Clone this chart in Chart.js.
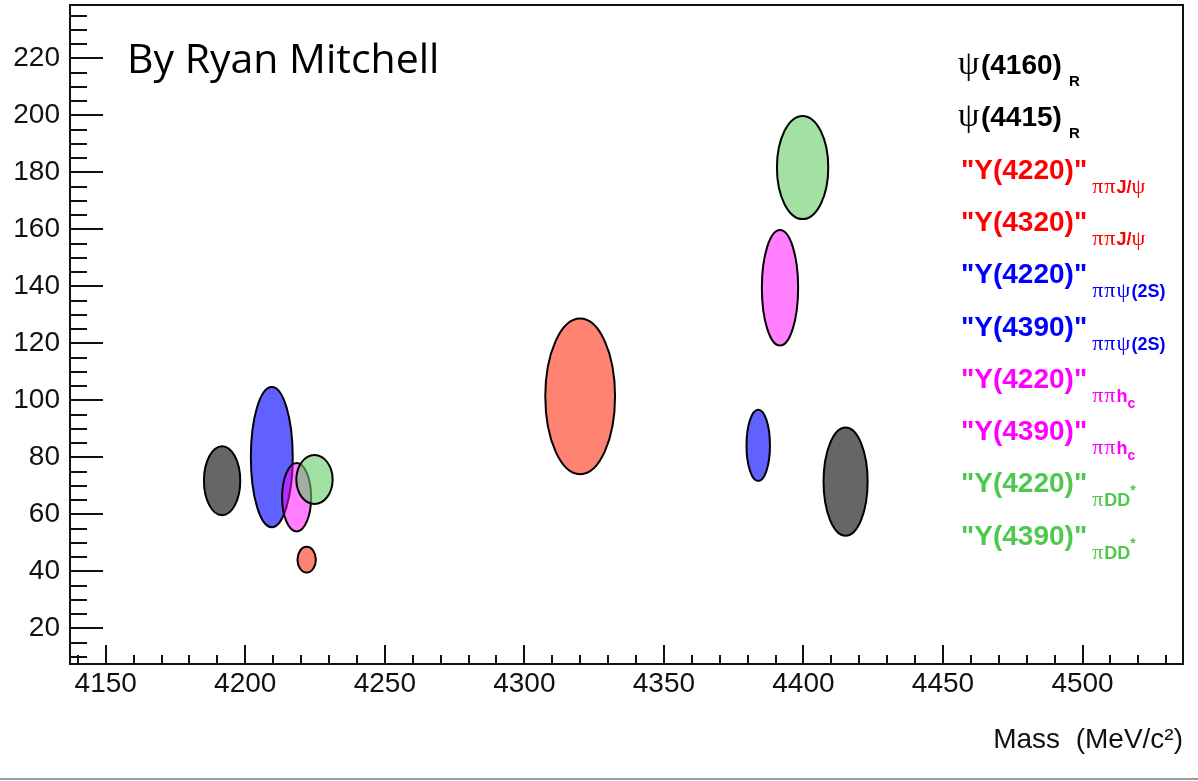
<!DOCTYPE html>
<html>
<head>
<meta charset="utf-8">
<script src="https://cdn.jsdelivr.net/npm/chart.js@4.4.0/dist/chart.umd.min.js"></script>
<style>
  html, body { margin: 0; padding: 0; background: #fff; }
  #wrap { position: relative; width: 1198px; height: 781px; overflow: hidden; }
  #c { display: block; width: 1198px; height: 781px; }
  #rule { position: absolute; left: 0; top: 778px; width: 1198px; height: 2px; background: #9c9c9c; }
</style>
</head>
<body>
<div id="wrap">
  <canvas id="c" width="1198" height="781"></canvas>
  <div id="rule"></div>
</div>
<script>
// Resonance parameters: mass and width (MeV) with their uncertainties
const resonances = ['ψ(4160)', 'ψ(4415)', '"Y(4220)"', '"Y(4320)"', '"Y(4220)"', '"Y(4390)"', '"Y(4220)"', '"Y(4390)"', '"Y(4220)"', '"Y(4390)"'];
const channels   = ['R', 'R', 'ππJ/ψ', 'ππJ/ψ', 'ππψ(2S)', 'ππψ(2S)', 'ππh_c', 'ππh_c', 'πDD^*', 'πDD^*'];
const mass       = [4191.7, 4415.1, 4222.0, 4320.0, 4209.5, 4383.8, 4218.4, 4391.6, 4224.8, 4399.7];
const massErr    = [6.5, 7.9, 3.3, 12.5, 7.5, 4.2, 5.2, 6.5, 6.5, 9.2];
const width      = [71.8, 71.5, 44.1, 101.4, 80.1, 84.2, 66.0, 139.5, 72.2, 181.7];
const widthErr   = [12.1, 19.0, 4.5, 27.3, 24.6, 12.5, 12.0, 20.3, 8.6, 18.1];

// Axis tick labels
const xTickLabels = [4150, 4200, 4250, 4300, 4350, 4400, 4450, 4500];
const yTickLabels = [20, 40, 60, 80, 100, 120, 140, 160, 180, 200, 220];

// Colours: text colour per channel and translucent ellipse fill
const textColors = ['#000000', '#000000', '#ff0000', '#ff0000', '#0000ff', '#0000ff', '#ff00ff', '#ff00ff', '#4fc84f', '#4fc84f'];
const fillColors = ['rgba(0,0,0,0.6)', 'rgba(0,0,0,0.6)', 'rgba(255,30,0,0.55)', 'rgba(255,30,0,0.55)',
                    'rgba(0,0,255,0.62)', 'rgba(0,0,255,0.62)', 'rgba(255,0,255,0.5)', 'rgba(255,0,255,0.5)',
                    'rgba(102,204,102,0.6)', 'rgba(102,204,102,0.6)'];

const X_MIN = 4137.2, X_MAX = 4536;
const Y_MIN = 7.5, Y_MAX = 238.7;

const SANS = '"Liberation Sans", Arial, Helvetica, sans-serif';
const SERIF = '"Liberation Serif", "Times New Roman", serif';

// Ellipses: centre (mass, width), semi-axes from the uncertainties, mapped through the scales
const ellipsePlugin = {
  id: 'errorEllipses',
  afterDatasetsDraw(chart) {
    const { ctx, scales: { x, y }, chartArea } = chart;
    ctx.save();
    ctx.beginPath();
    ctx.rect(chartArea.left, chartArea.top, chartArea.right - chartArea.left, chartArea.bottom - chartArea.top);
    ctx.clip();
    chart.data.datasets.forEach((ds) => {
      const p = ds.data[0];
      const cx = x.getPixelForValue(p.x);
      const cy = y.getPixelForValue(p.y);
      const rx = Math.abs(x.getPixelForValue(p.x + ds.massErr) - cx);
      const ry = Math.abs(y.getPixelForValue(p.y + ds.widthErr) - cy);
      ctx.beginPath();
      ctx.ellipse(cx, cy, rx, ry, 0, 0, Math.PI * 2);
      ctx.fillStyle = ds.backgroundColor;
      ctx.fill();
      ctx.lineWidth = 2;
      ctx.strokeStyle = '#000';
      ctx.stroke();
    });
    ctx.restore();
  }
};

// Frame with inward major/minor ticks
const framePlugin = {
  id: 'frameTicks',
  afterDraw(chart) {
    const { ctx, chartArea: a, scales: { x, y } } = chart;
    ctx.save();
    ctx.strokeStyle = '#111';
    ctx.lineWidth = 2;
    ctx.beginPath();
    // x ticks: major every 50, minor every 10
    for (let v = Math.ceil(x.min / 10) * 10; v <= x.max; v += 10) {
      const px = Math.round(x.getPixelForValue(v));
      const len = (v % 50 === 0) ? 19 : 9;
      ctx.moveTo(px, a.bottom);
      ctx.lineTo(px, a.bottom - len);
    }
    // y ticks: major every 20, minor every 5
    for (let v = Math.ceil(y.min / 5) * 5; v <= y.max; v += 5) {
      const py = Math.round(y.getPixelForValue(v));
      const len = (v % 20 === 0) ? 33 : 17;
      ctx.moveTo(a.left, py);
      ctx.lineTo(a.left + len, py);
    }
    ctx.stroke();
    ctx.strokeRect(a.left, a.top, a.right - a.left, a.bottom - a.top);
    ctx.restore();
  }
};

// Text runs: Greek letters in serif, '_' lowers and '^' raises the next character
function runs(text) {
  const out = [];
  for (let i = 0; i < text.length; i++) {
    let ch = text[i], shift = 0;
    if (ch === '_' || ch === '^') { shift = ch === '_' ? 1 : -1; ch = text[++i]; }
    out.push({ ch, shift, greek: /[ψπ]/.test(ch) });
  }
  return out;
}
function drawRich(ctx, text, x, y, size) {
  for (const r of runs(text)) {
    const s = r.shift ? size * 0.75 : size;
    ctx.font = r.greek ? `${Math.round(s * 1.2)}px ${SERIF}` : `bold ${Math.round(s)}px ${SANS}`;
    const dy = r.shift === 1 ? size * 0.32 : (r.shift === -1 ? -size * 0.62 : 0);
    ctx.fillText(r.ch, x, y + dy);
    x += ctx.measureText(r.ch).width + (r.greek ? size * 0.06 : 0);
  }
  return x;
}

const legendPlugin = {
  id: 'channelLegend',
  afterDraw(chart) {
    const { ctx } = chart;
    ctx.save();
    ctx.textBaseline = 'alphabetic';
    ctx.textAlign = 'left';
    chart.data.datasets.forEach((ds, i) => {
      const base = 74 + 52.3 * i;
      ctx.fillStyle = ds.textColor;
      const isPsi = ds.label.startsWith('ψ');
      const end = drawRich(ctx, ds.label, isPsi ? 958 : 961, base, 28);
      drawRich(ctx, ds.channel, end + (isPsi ? 7 : 5), base + (isPsi ? 12 : 14), isPsi ? 15 : 18);
    });
    // author note
    ctx.fillStyle = '#000';
    ctx.font = `41px "Open Sans", Lato, sans-serif`;
    ctx.fillText('By Ryan Mitchell', 127, 73);
    ctx.restore();
  }
};

const datasets = resonances.map((name, i) => ({
  label: name,
  channel: channels[i],
  data: [{ x: mass[i], y: width[i] }],
  massErr: massErr[i],
  widthErr: widthErr[i],
  backgroundColor: fillColors[i],
  textColor: textColors[i],
  pointRadius: 0,
  pointHoverRadius: 0
}));

new Chart(document.getElementById('c'), {
  type: 'scatter',
  data: { datasets },
  options: {
    responsive: false,
    animation: false,
    events: [],
    layout: { padding: { top: 5, right: 15, left: 0, bottom: 0 } },
    plugins: { legend: { display: false }, tooltip: { enabled: false } },
    scales: {
      x: {
        type: 'linear',
        min: X_MIN, max: X_MAX,
        afterBuildTicks: s => { s.ticks = xTickLabels.map(v => ({ value: v })); },
        afterFit: s => { s.height = 117; s.paddingLeft = 0; s.paddingRight = 0; },
        grid: { display: false, drawTicks: false },
        border: { display: false },
        ticks: { color: '#111', font: { family: SANS, size: 28 }, padding: 3, maxRotation: 0, autoSkip: false,
                 callback: v => String(v) },
        title: { display: true, text: 'Mass  (MeV/c²)', align: 'end', color: '#111',
                 font: { family: SANS, size: 28 }, padding: { top: 0, bottom: 24 } }
      },
      y: {
        type: 'linear',
        min: Y_MIN, max: Y_MAX,
        afterBuildTicks: s => { s.ticks = yTickLabels.map(v => ({ value: v })); },
        afterFit: s => { s.width = 70; s.paddingTop = 0; s.paddingBottom = 0; },
        grid: { display: false, drawTicks: false },
        border: { display: false },
        ticks: { color: '#111', font: { family: SANS, size: 28 }, padding: 10, autoSkip: false,
                 callback: v => String(v) }
      }
    }
  },
  plugins: [ellipsePlugin, framePlugin, legendPlugin]
});
</script>
</body>
</html>
